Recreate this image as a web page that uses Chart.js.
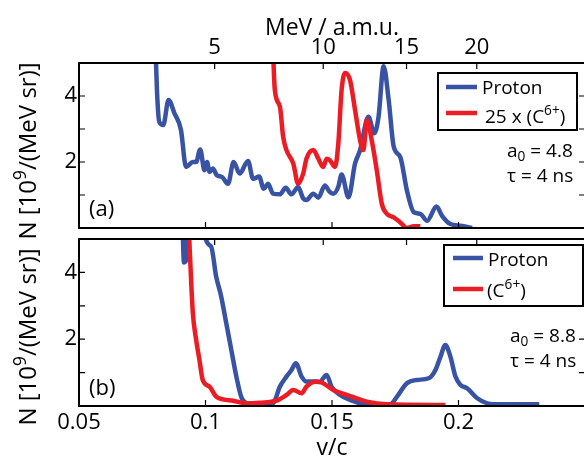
<!DOCTYPE html>
<html>
<head>
<meta charset="utf-8">
<script src="https://cdn.jsdelivr.net/npm/chart.js@4.4.0/dist/chart.umd.min.js"></script>
<style>
  html, body { margin: 0; padding: 0; background: #fff; overflow: hidden; }
  #wrap { position: relative; width: 590px; height: 462px; }
  #wrap canvas { position: absolute; left: 0; top: 0; }
</style>
</head>
<body>
<div id="wrap">
  <canvas id="chartA" width="590" height="462"></canvas>
  <canvas id="chartB" width="590" height="462"></canvas>
</div>
<script>
// ---- data (v/c, N in 10^9/(MeV sr)) ----
const vcTicks = [0.05, 0.1, 0.15, 0.2];
const vcTickLabels = ['0.05', '0.1', '0.15', '0.2'];
const mevTicks = [5, 10, 15, 20];
const yLabelValues = [2, 4];
const yMarkValues = [1, 2, 3, 4];
const amuMeV = 931.5;

// panel (a)
const vProtonA = [0.0798, 0.0808, 0.0817, 0.0833, 0.0854, 0.0877, 0.0903, 0.0923, 0.0950, 0.0963, 0.0979, 0.0996, 0.1006, 0.1016, 0.1029, 0.1045, 0.1065, 0.1089, 0.1111, 0.1135, 0.1168, 0.1188, 0.1212, 0.1230, 0.1247, 0.1267, 0.1294, 0.1317, 0.1340, 0.1366, 0.1386, 0.1399, 0.1426, 0.1446, 0.1472, 0.1490, 0.1505, 0.1525, 0.1538, 0.1565, 0.1591, 0.1611, 0.1644, 0.1667, 0.1684, 0.1704, 0.1724, 0.1744, 0.1770, 0.1796, 0.1823, 0.1849, 0.1876, 0.1913, 0.1935, 0.1968, 0.2008, 0.2054];
const nProtonA = [6.5, 4.2, 3.22, 3.12, 3.88, 3.48, 2.97, 1.85, 2.0, 2.0, 2.38, 1.75, 2.0, 1.7, 1.8, 1.6, 1.55, 1.34, 2.0, 1.65, 2.03, 1.49, 1.56, 1.19, 1.34, 1.04, 1.02, 1.22, 1.02, 1.24, 0.9, 0.85, 1.04, 0.92, 1.29, 1.1, 1.04, 1.25, 1.62, 0.93, 1.95, 2.36, 3.37, 2.87, 3.37, 4.9, 3.88, 2.46, 2.15, 1.14, 0.48, 0.43, 0.22, 0.65, 0.37, 0.12, 0.07, 0.0];
const vCarbonA = [0.1262, 0.1274, 0.1294, 0.1307, 0.1320, 0.1347, 0.1366, 0.1386, 0.1399, 0.1426, 0.1446, 0.1465, 0.1479, 0.1492, 0.1512, 0.1525, 0.1538, 0.1552, 0.1571, 0.1591, 0.1611, 0.1624, 0.1638, 0.1657, 0.1677, 0.1697, 0.1717, 0.1744, 0.1770, 0.1796, 0.1823, 0.1849];
const nCarbonA = [6.5, 4.19, 3.68, 2.76, 2.36, 1.95, 1.34, 1.65, 2.1, 2.36, 2.1, 1.85, 2.1, 2.05, 1.85, 2.56, 4.19, 4.7, 4.49, 3.58, 2.66, 2.36, 3.27, 2.66, 1.75, 0.73, 0.43, 0.32, 0.17, 0.0, 0.05, 0.05];

// panel (b)
const vProtonB = [0.0905, 0.0915, 0.0925, 0.0935, 0.0990, 0.0998, 0.1022, 0.1042, 0.1062, 0.1082, 0.1102, 0.1122, 0.1141, 0.1161, 0.1200, 0.1240, 0.1267, 0.1294, 0.1320, 0.1340, 0.1357, 0.1380, 0.1399, 0.1426, 0.1450, 0.1479, 0.1498, 0.1532, 0.1571, 0.1637, 0.1730, 0.1757, 0.1796, 0.1836, 0.1882, 0.1909, 0.1929, 0.1948, 0.1968, 0.1988, 0.2008, 0.2034, 0.2074, 0.2114, 0.2167, 0.2319];
const nProtonB = [7, 4.3, 4.4, 7, 7, 5.1, 4.78, 3.88, 3.28, 2.48, 1.68, 0.88, 0.28, 0.08, 0.03, 0.05, 0.08, 0.58, 0.88, 1.08, 1.28, 0.88, 0.73, 0.73, 0.72, 0.93, 0.58, 0.33, 0.18, 0.05, 0.05, 0.28, 0.68, 0.78, 0.83, 1.08, 1.48, 1.83, 1.48, 0.88, 0.63, 0.53, 0.23, 0.08, 0.05, 0.05];
const vCarbonB = [0.0930, 0.0943, 0.0950, 0.0963, 0.0976, 0.0989, 0.1016, 0.1042, 0.1069, 0.1109, 0.1161, 0.1214, 0.1280, 0.1320, 0.1347, 0.1380, 0.1399, 0.1439, 0.1465, 0.1505, 0.1558, 0.1598, 0.1638, 0.1717, 0.1948];
const nCarbonB = [6, 3.78, 2.78, 1.98, 1.38, 0.78, 0.58, 0.28, 0.2, 0.16, 0.08, 0.1, 0.16, 0.33, 0.48, 0.38, 0.58, 0.73, 0.68, 0.48, 0.33, 0.23, 0.13, 0.05, 0.03];

const blue = '#3953a4';
const red = '#ec1c24';
const FONT = '"Open Sans", "Liberation Sans", sans-serif';

Chart.defaults.font.family = FONT;
Chart.defaults.color = '#000';

const mevToV = (e) => Math.sqrt(2 * e / amuMeV);
const pts = (xs, ys) => xs.map((x, i) => ({ x: x, y: ys[i] }));

// text with super/subscripts
function drawRich(ctx, parts, x, y, size, measureOnly) {
  let cx = x;
  parts.forEach((p) => {
    const s = (p.sup || p.sub) ? size * 0.72 : size;
    ctx.font = s + 'px ' + FONT;
    const dy = p.sup ? -size * 0.42 : (p.sub ? size * 0.22 : 0);
    if (!measureOnly) ctx.fillText(p.t, cx, y + dy);
    cx += ctx.measureText(p.t).width;
  });
  return cx - x;
}

function makeDecor(cfg) {
  return {
    id: 'decor',
    afterDraw(chart) {
      const ctx = chart.ctx;
      const a = chart.chartArea;
      const xs = chart.scales.x, ys = chart.scales.y;
      ctx.save();
      ctx.strokeStyle = '#000';
      ctx.fillStyle = '#000';
      // frame
      ctx.lineWidth = 2;
      ctx.strokeRect(a.left, a.top, a.right - a.left, a.bottom - a.top);
      // inward ticks
      ctx.lineWidth = 1.2;
      const tl = 6;
      ctx.beginPath();
      vcTicks.forEach((v) => {
        const px = xs.getPixelForValue(v);
        ctx.moveTo(px, a.bottom); ctx.lineTo(px, a.bottom - tl);
      });
      mevTicks.forEach((e) => {
        const px = xs.getPixelForValue(mevToV(e));
        ctx.moveTo(px, a.top); ctx.lineTo(px, a.top + tl);
      });
      yMarkValues.forEach((v) => {
        const py = ys.getPixelForValue(v);
        ctx.moveTo(a.left, py); ctx.lineTo(a.left + tl, py);
        ctx.moveTo(a.right, py); ctx.lineTo(a.right - tl, py);
      });
      ctx.stroke();

      // y title
      ctx.textBaseline = 'alphabetic';
      ctx.textAlign = 'left';
      const tp = [{ t: 'N [10' }, { t: '9', sup: true }, { t: '/(MeV sr)]' }];
      const tw = drawRich(ctx, tp, 0, 0, 24, true);
      ctx.save();
      ctx.translate(36, cfg.titleY);
      ctx.rotate(-Math.PI / 2);
      drawRich(ctx, tp, -tw / 2, 0, 24);
      ctx.restore();

      // panel tag
      ctx.font = '22px ' + FONT;
      ctx.fillText(cfg.tag, 89, cfg.tagY);

      // legend box
      const L = cfg.legend;
      ctx.fillStyle = '#fff';
      ctx.fillRect(L.x, L.y, L.w, L.h);
      ctx.lineWidth = 2;
      ctx.strokeRect(L.x, L.y, L.w, L.h);
      L.items.forEach((it) => {
        ctx.strokeStyle = it.color;
        ctx.lineWidth = 4.5;
        ctx.beginPath();
        ctx.moveTo(L.lineX0, it.lineY); ctx.lineTo(L.lineX1, it.lineY);
        ctx.stroke();
        ctx.fillStyle = '#000';
        drawRich(ctx, it.parts, it.textX, it.base, 19);
      });

      // annotations
      ctx.fillStyle = '#000';
      cfg.notes.forEach((n) => drawRich(ctx, n.parts, n.x, n.base, 19));
      ctx.restore();
    }
  };
}

function lineSet(xs, ys, color, order) {
  return {
    data: pts(xs, ys),
    showLine: true,
    borderColor: color,
    backgroundColor: color,
    borderWidth: 4.5,
    pointRadius: 0,
    cubicInterpolationMode: 'monotone',
    clip: 0,
    order: order
  };
}

const yScale = {
  type: 'linear', position: 'left', min: 0, max: 5,
  afterBuildTicks: (s) => { s.ticks = yLabelValues.map((v) => ({ value: v })); },
  afterFit: (s) => { s.width = 79; },
  ticks: { font: { size: 22 }, padding: 2 },
  grid: { display: false, drawTicks: false },
  border: { display: false }
};

const common = {
  responsive: false,
  animation: false,
  plugins: { legend: { display: false }, tooltip: { enabled: false } }
};

// ---- panel (a) ----
new Chart(document.getElementById('chartA'), {
  type: 'scatter',
  data: {
    datasets: [
      lineSet(vProtonA, nProtonA, blue, 1),
      lineSet(vCarbonA, nCarbonA, red, 0)
    ]
  },
  options: Object.assign({}, common, {
    layout: { padding: { left: 0, right: 5, top: 0, bottom: 234 } },
    scales: {
      x: { type: 'linear', min: 0.05, max: 0.25, display: false },
      x2: {
        type: 'linear', position: 'top', min: 0.05, max: 0.25,
        afterBuildTicks: (s) => { s.ticks = mevTicks.map((e) => ({ value: mevToV(e) })); },
        afterFit: (s) => { s.height = 63; },
        ticks: { font: { size: 22 }, padding: 2, maxRotation: 0, callback: (v, i) => String(mevTicks[i]) },
        grid: { display: false, drawTicks: false },
        border: { display: false },
        title: { display: true, text: 'MeV / a.m.u.', font: { size: 23 }, padding: { top: 15, bottom: 0 } }
      },
      y: yScale
    }
  }),
  plugins: [makeDecor({
    titleY: 151, tag: '(a)', tagY: 216,
    legend: {
      x: 438, y: 73, w: 139, h: 57, lineX0: 446, lineX1: 477,
      items: [
        { color: blue, lineY: 87, textX: 482, base: 93.5, parts: [{ t: 'Proton' }] },
        { color: red, lineY: 113, textX: 485, base: 123, parts: [{ t: '25 x (C' }, { t: '6+', sup: true }, { t: ')' }] }
      ]
    },
    notes: [
      { x: 507, base: 157, parts: [{ t: 'a' }, { t: '0', sub: true }, { t: ' = 4.8' }] },
      { x: 507, base: 182, parts: [{ t: '\u03c4 = 4 ns' }] }
    ]
  })]
});

// ---- panel (b) ----
new Chart(document.getElementById('chartB'), {
  type: 'scatter',
  data: {
    datasets: [
      lineSet(vProtonB, nProtonB, blue, 1),
      lineSet(vCarbonB, nCarbonB, red, 0)
    ]
  },
  options: Object.assign({}, common, {
    layout: { padding: { left: 0, right: 5, top: 239, bottom: 0 } },
    scales: {
      x: {
        type: 'linear', position: 'bottom', min: 0.05, max: 0.25,
        afterBuildTicks: (s) => { s.ticks = vcTicks.map((v) => ({ value: v })); },
        afterFit: (s) => { s.height = 56; },
        ticks: { font: { size: 22 }, padding: 4, maxRotation: 0, callback: (v, i) => vcTickLabels[i] },
        grid: { display: false, drawTicks: false },
        border: { display: false },
        title: { display: true, text: 'v/c', font: { size: 23 }, padding: { top: 0, bottom: 0 } }
      },
      x2: { type: 'linear', position: 'top', min: 0.05, max: 0.25, display: false },
      y: Object.assign({}, yScale)
    }
  }),
  plugins: [makeDecor({
    titleY: 337, tag: '(b)', tagY: 395,
    legend: {
      x: 444, y: 245, w: 139, h: 61, lineX0: 453, lineX1: 483,
      items: [
        { color: blue, lineY: 258, textX: 488, base: 265.5, parts: [{ t: 'Proton' }] },
        { color: red, lineY: 289, textX: 487, base: 297, parts: [{ t: '(C' }, { t: '6+', sup: true }, { t: ')' }] }
      ]
    },
    notes: [
      { x: 510, base: 342, parts: [{ t: 'a' }, { t: '0', sub: true }, { t: ' = 8.8' }] },
      { x: 510, base: 367, parts: [{ t: '\u03c4 = 4 ns' }] }
    ]
  })]
});
</script>
</body>
</html>
